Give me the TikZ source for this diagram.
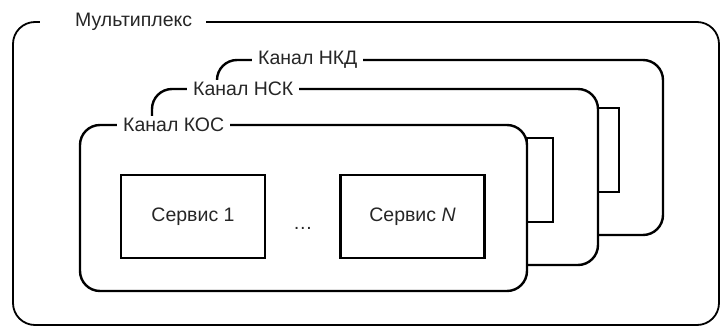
\documentclass[tikz,border=0pt]{standalone}
\usepackage{fontspec}
\setmainfont{Liberation Sans}
\usetikzlibrary{calc}
\begin{document}
\begin{tikzpicture}[x=1pt,y=-1pt,
	box/.style={draw, line width=2.4pt, rounded corners=20pt, fill=white},
	tag/.style={fill=white, text=black!85, inner xsep=6pt, inner ysep=2pt, anchor=west, font=\fontsize{19.5}{22}\selectfont},
	srv/.style={draw, line width=2.2pt, text=black!85, minimum width=144pt, minimum height=83pt, font=\fontsize{19.5}{22}\selectfont}]
	\useasboundingbox (0,0) rectangle (721,327);
	% multiplex
	\draw [line width=1.8pt, rounded corners=22pt] (13,22) rectangle (719,325);
	\node [tag, inner xsep=0pt] (mux) at (40,22) {\hspace*{35pt}Мультиплекс\hspace*{14pt}};
	% channels, back to front
	\draw [box] (217,60) rectangle (663,235);
	\node [tag] (nkd) at (252,60) {Канал НКД};
	\draw [line width=2.4pt] (598,108) rectangle (619,192);
	\draw [box] (152,89) rectangle (598,265);
	\node [tag] (nsk) at (187,89) {Канал НСК};
	\draw [line width=2.4pt] (527,138) rectangle (553,222);
	\draw [box] (80,125) rectangle (527,291);
	\node [tag] (kos) at (117,125) {Канал КОС};
	% services
	\node [srv] (s1) at (193,216.5) {Сервис 1};
	\node [srv] (sn) at (412.5,216.5) {Сервис \textit{N}};
	\node [text=black!85, font=\fontsize{19.5}{22}\selectfont] (dots) at ($(s1)!0.5!(sn)+(0,12)$) {\dots};
\end{tikzpicture}
\end{document}
